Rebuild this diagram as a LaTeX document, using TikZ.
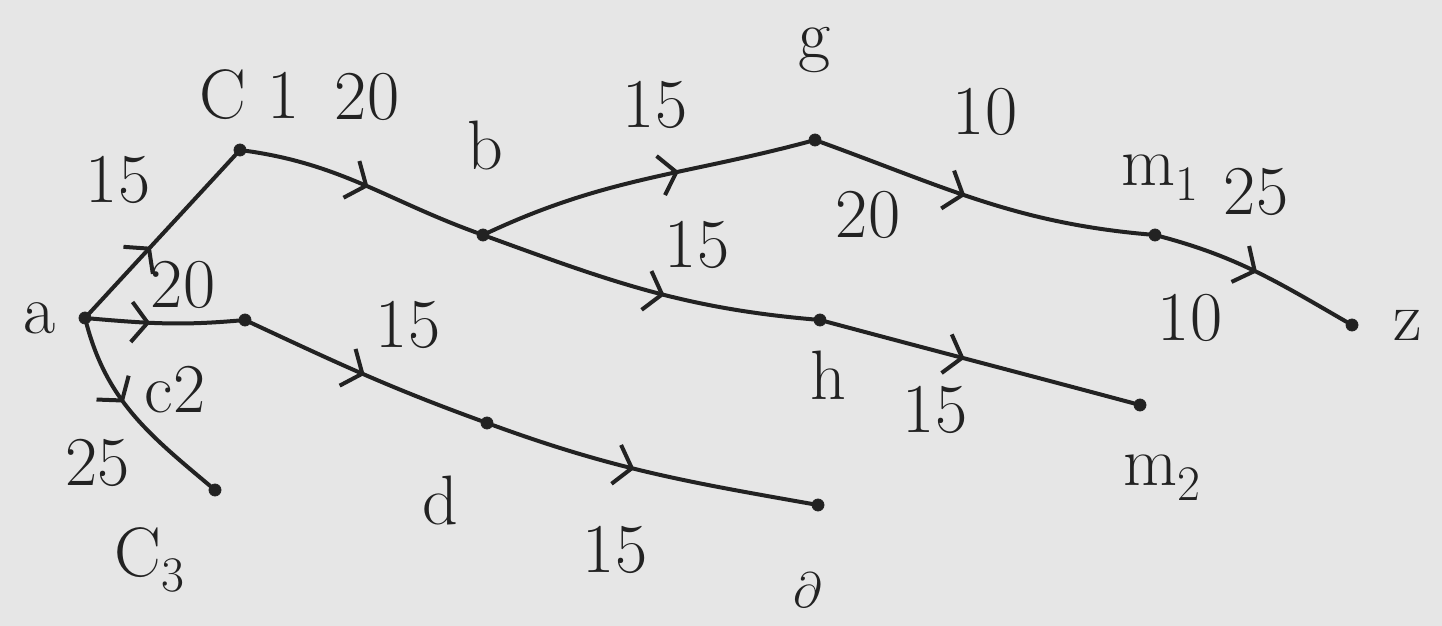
\documentclass[tikz,border=0pt]{standalone}
\usetikzlibrary{arrows.meta,decorations.markings}
\definecolor{bg}{HTML}{E6E6E6}
\definecolor{ink}{HTML}{222222}
\begin{document}
\begin{tikzpicture}[x=0.5pt,y=-0.5pt,
  dot/.style={circle,fill=ink,draw=ink,inner sep=0pt,minimum size=6pt},
  lbl/.style={font=\fontsize{35}{40}\selectfont,text=ink,inner sep=0pt},
  edge/.style={draw=ink,line width=2pt,line cap=round},
  mid/.style={postaction={decorate},decoration={markings,
    mark=at position #1 with {\arrow[ink,line width=2pt]{Straight Barb[length=8pt,width=20pt]}}}}]
\fill[bg] (0,0) rectangle (1442,626);
\useasboundingbox (0,0) rectangle (1442,626);
% nodes
\node[dot] (a) at (85,318) {};
\node[dot] (c1) at (240,150) {};
\node[dot] (c2) at (245,320) {};
\node[dot] (c3) at (215,490) {};
\node[dot] (b) at (483,235) {};
\node[dot] (d) at (487,423) {};
\node[dot] (g) at (815,140) {};
\node[dot] (h) at (820,320) {};
\node[dot] (e) at (818,505) {};
\node[dot] (m1) at (1155,235) {};
\node[dot] (m2) at (1140,405) {};
\node[dot] (z) at (1352,325) {};
% edges
\draw[edge,mid=0.42] (a) -- (c1);
\draw[edge,mid=0.4] (a) to[out=-5,in=185] (c2);
\draw[edge,mid=0.42] (a) to[out=-75,in=140] (c3);
\draw[edge,mid=0.52] (c1) to[out=-8,in=160] (b);
\draw[edge,mid=0.5] (c2) to[out=-25,in=160] (d);
\draw[edge,mid=0.6] (b) to[out=25,in=195] (g);
\draw[edge,mid=0.55] (b) to[out=-20,in=175] (h);
\draw[edge,mid=0.45] (d) to[out=-20,in=170] (e);
\draw[edge,mid=0.45] (g) to[out=-20,in=175] (m1);
\draw[edge,mid=0.45] (h) to[out=-15,in=165] (m2);
\draw[edge,mid=0.5] (m1) to[out=-15,in=150] (z);
% labels
\node[lbl] (la) at (40,318) {a};
\node[lbl] (lc1) at (250,95) {C 1};
\node[lbl] (l1) at (367,97) {20};
\node[lbl] (lb) at (485,145) {b};
\node[lbl] (l2) at (655,105) {15};
\node[lbl] (lg) at (815,50) {g};
\node[lbl] (l3) at (985,112) {10};
\node[lbl] (lm1) at (1160,178) {m$_1$};
\node[lbl] (l4) at (1256,192) {25};
\node[lbl] (lz) at (1408,325) {z};
\node[lbl] (l5) at (118,180) {15};
\node[lbl] (l6) at (183,285) {20};
\node[lbl] (l7) at (408,325) {15};
\node[lbl] (lc2) at (175,390) {c2};
\node[lbl] (l8) at (98,463) {25};
\node[lbl] (lc3) at (150,560) {C$_3$};
\node[lbl] (ld) at (440,500) {d};
\node[lbl] (l9) at (615,550) {15};
\node[lbl] (le) at (808,590) {$\partial$};
\node[lbl] (l10) at (868,215) {20};
\node[lbl] (l11) at (697,245) {15};
\node[lbl] (lh) at (828,375) {h};
\node[lbl] (l12) at (935,410) {15};
\node[lbl] (l13) at (1190,318) {10};
\node[lbl] (lm2) at (1162,478) {m$_2$};
\end{tikzpicture}
\end{document}
